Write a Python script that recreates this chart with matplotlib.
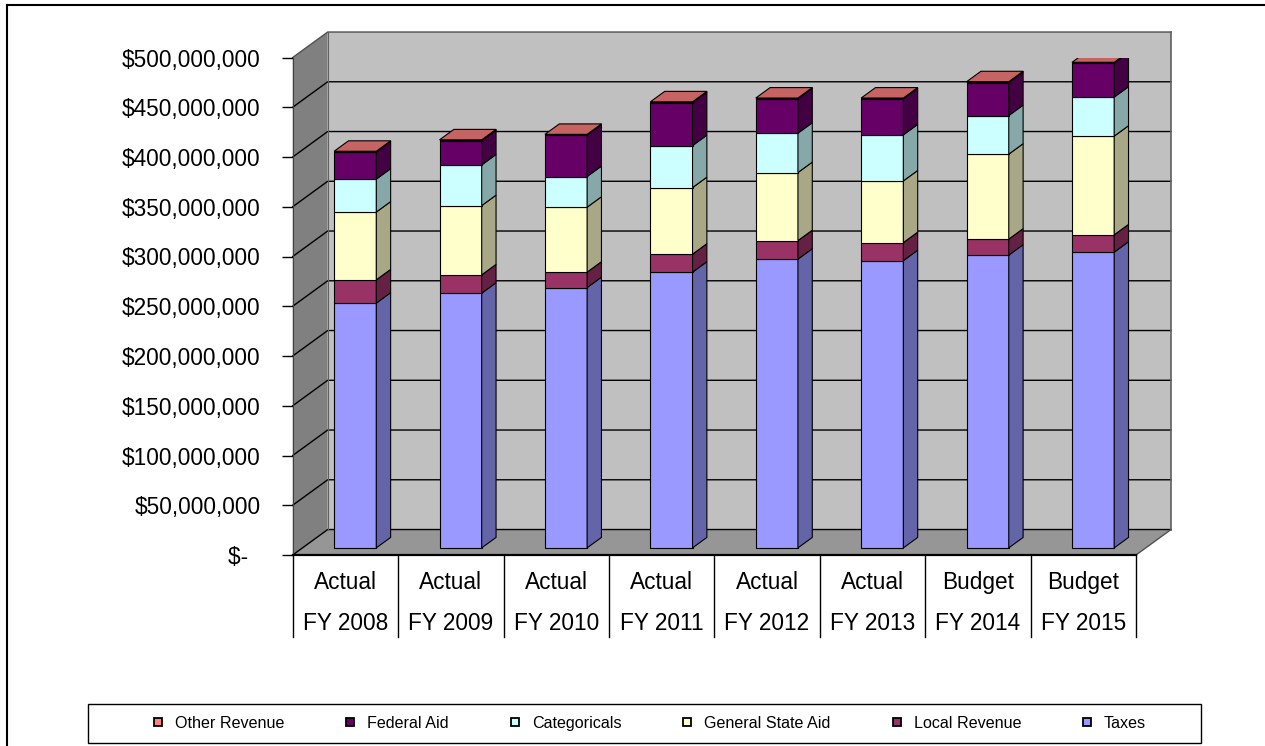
import numpy as np
import matplotlib.pyplot as plt
from matplotlib.patches import Polygon, Rectangle
from matplotlib.lines import Line2D

plt.rcParams['font.family'] = ['Liberation Sans', 'DejaVu Sans']

# revenue by source, millions of dollars
status = ['Actual', 'Actual', 'Actual', 'Actual', 'Actual', 'Actual', 'Budget', 'Budget']
years = ['FY 2008', 'FY 2009', 'FY 2010', 'FY 2011', 'FY 2012', 'FY 2013', 'FY 2014', 'FY 2015']

taxes = [246.0, 256.0, 261.6, 277.1, 290.2, 288.7, 294.2, 297.2]
local_revenue = [23.4, 18.4, 15.5, 18.1, 18.6, 18.1, 16.1, 17.4]
general_state_aid = [68.1, 69.6, 65.3, 66.9, 68.4, 62.0, 85.4, 99.2]
categoricals = [33.1, 40.9, 30.8, 42.2, 39.6, 46.3, 38.8, 39.2]
federal_aid = [27.2, 24.4, 41.6, 43.2, 34.5, 36.2, 33.2, 34.2]
other_revenue = [0.8, 0.8, 0.8, 0.8, 0.8, 0.8, 0.8, 0.8]

series = [
    ('Taxes', taxes, '#9999FF'),
    ('Local Revenue', local_revenue, '#993366'),
    ('General State Aid', general_state_aid, '#FFFFCC'),
    ('Categoricals', categoricals, '#CCFFFF'),
    ('Federal Aid', federal_aid, '#660066'),
    ('Other Revenue', other_revenue, '#FF8080'),
]


def shade(hex_color, k):
    r, g, b = (int(hex_color[i:i + 2], 16) for i in (1, 3, 5))
    return '#%02x%02x%02x' % (int(r * k), int(g * k), int(b * k))


W, H = 1265, 746
fig = plt.figure(figsize=(W / 100, H / 100), dpi=100)
ax = fig.add_axes([292.7 / W, (H - 555) / H, 843.3 / W, 497.5 / H])
n = len(years)
ax.set_xlim(0, n)
ax.set_ylim(0, 500e6)

# oblique depth of the plot box in data units
DX, DY = 0.332, 25.6e6

# walls and floor
ax.add_patch(Polygon([(0, 0), (DX, DY), (DX, DY + 500e6), (0, 500e6)],
                     closed=True, fc='#808080', ec='none', clip_on=False, zorder=0))
ax.add_patch(Rectangle((DX, DY), n, 500e6, fc='#C0C0C0', ec='none',
                       clip_on=False, zorder=0))
ax.add_patch(Polygon([(0, 0), (n, 0), (n + DX, DY), (DX, DY)],
                     closed=True, fc='#969696', ec='none', clip_on=False, zorder=0))

ticks = np.arange(0, 501e6, 50e6)
for v in ticks:
    col = '#505050' if v == 500e6 else 'black'
    ax.plot([0, DX, n + DX], [v, v + DY, v + DY], color=col, lw=1.0,
            clip_on=False, zorder=1)
ax.plot([n + DX, n + DX], [DY, DY + 500e6], color='#606060', lw=1.2,
        clip_on=False, zorder=1)
ax.plot([DX, DX], [DY, DY + 500e6], color='#606060', lw=0.8,
        clip_on=False, zorder=1)
ax.plot([n, n + DX], [0, DY], color='#505050', lw=1.0, clip_on=False, zorder=1)

# stacked bars: front faces via bar(), side and top faces as polygons
f, d, bw = 0.28, 0.41, 0.4
xc = np.arange(n) + 0.5 + f * DX
y0 = f * DY
base = np.zeros(n)
for idx, (name, vals, col) in enumerate(series):
    vals = np.array(vals) * 1e6
    ax.bar(xc, vals, width=bw, bottom=y0 + base, color=col, edgecolor='black',
           linewidth=0.8, zorder=3, label=name)
    for j in range(n):
        xr = xc[j] + bw / 2
        xl = xc[j] - bw / 2
        b = y0 + base[j]
        t = b + vals[j]
        ax.add_patch(Polygon([(xr, b), (xr + d * DX, b + d * DY),
                              (xr + d * DX, t + d * DY), (xr, t)],
                             closed=True, fc=shade(col, 0.66), ec='black',
                             lw=0.8, zorder=3))
        if idx == len(series) - 1:
            ax.add_patch(Polygon([(xl, t), (xr, t), (xr + d * DX, t + d * DY),
                                  (xl + d * DX, t + d * DY)],
                                 closed=True, fc=shade(col, 0.78), ec='black',
                                 lw=0.8, zorder=3))
    base += vals

# value axis
ax.set_yticks(ticks)
ax.set_yticklabels(['$-  ' if v == 0 else '${:,.0f}'.format(v) for v in ticks],
                   fontsize=16.3)
ax.tick_params(axis='y', length=8, width=1, pad=15, color='black')
ax.set_xticks([])
for s in ('top', 'right'):
    ax.spines[s].set_visible(False)
ax.spines['left'].set_color('#404040')
ax.spines['bottom'].set_linewidth(1.6)
ax.spines['bottom'].set_zorder(4)

# category labels in a two-row strip below the floor
tr = ax.get_xaxis_transform()
for j in range(n):
    ax.text(j + 0.5, -0.0543, status[j], transform=tr, ha='center', va='center',
            fontsize=16.3)
    ax.text(j + 0.5, -0.1367, years[j], transform=tr, ha='center', va='center',
            fontsize=16.3)
for j in range(n + 1):
    ax.plot([j, j], [0, -0.1648], transform=tr, color='black', lw=1.0,
            clip_on=False)

# legend with its own box
handles = [Line2D([], [], ls='none', marker='s', markersize=5.8,
                  markerfacecolor=col, markeredgecolor='black',
                  markeredgewidth=1.3) for _, _, col in series[::-1]]
labels = [name for name, _, _ in series[::-1]]
fig.legend(handles, labels, ncol=6, loc='center',
           bbox_to_anchor=(648 / W, 1 - 723.5 / H), frameon=False, fontsize=11.6,
           columnspacing=3.6, handletextpad=0.55, handlelength=1.0)
fig.add_artist(Rectangle((88 / W, 1 - 743 / H), (1201 - 88) / W, 39 / H,
                         transform=fig.transFigure, fill=False, ec='black', lw=1.0))

# chart border
fig.add_artist(Line2D([7 / W, 7 / W], [0, 1 - 5 / H], transform=fig.transFigure,
                      color='black', lw=1.5))
fig.add_artist(Line2D([7 / W, 1], [1 - 5 / H, 1 - 5 / H], transform=fig.transFigure,
                      color='black', lw=1.5))

fig.savefig('out.png', dpi=100)
